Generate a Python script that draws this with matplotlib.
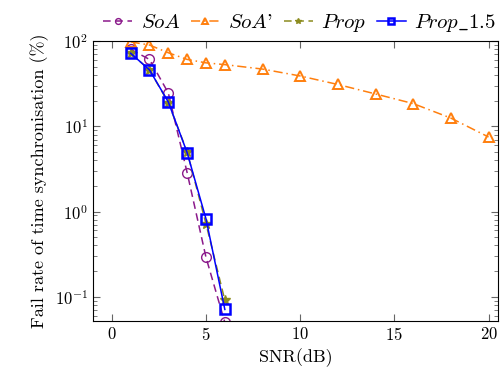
import matplotlib.pyplot as plt

plt.rcParams['font.family'] = 'cmr10'
plt.rcParams['mathtext.fontset'] = 'cm'
plt.rcParams['axes.formatter.use_mathtext'] = True

x_short = [1, 2, 3, 4, 5, 6]
soa = [80, 61, 24.6, 2.85, 0.29, 0.05]
prop = [72, 46, 19, 5.0, 0.72, 0.091]
prop15 = [72, 46, 19.3, 4.9, 0.82, 0.071]

x_long = [1, 2, 3, 4, 5, 6, 8, 10, 12, 14, 16, 18, 20]
soa_p = [98, 90, 73, 61, 55.6, 53, 47, 39, 31, 24, 18.5, 12.5, 7.5]

fig = plt.figure(figsize=(5.04, 3.88), dpi=100)
ax = fig.add_axes([0.1845, 0.1727, 0.8035, 0.7213])

ax.plot(x_short, soa, color='#8b1a8b', linestyle=(0, (5, 3)), marker='o',
        markerfacecolor='none', markersize=7, lw=1.1, label=r'$SoA$')
ax.plot(x_long, soa_p, color='#ff7f0e', linestyle=(0, (6, 2.5, 1, 2.5)), marker='^',
        markerfacecolor='none', markersize=7, mew=1.4, lw=1.1, label=r"$SoA$'")
ax.plot(x_short, prop, color='#8c8c1f', linestyle=(0, (5, 3)), marker='*',
        markersize=7, lw=1.1, label=r'$Prop$')
ax.plot(x_short, prop15, color='#0000ff', linestyle='-', marker='s',
        markerfacecolor='none', markersize=7, mew=1.8, lw=1.1, label=r'$Prop\_1.5$')

ax.set_yscale('log')
ax.set_xlim(-1, 20.5)
ax.set_ylim(0.052, 100)
ax.set_xticks([0, 5, 10, 15, 20])
ax.tick_params(which='both', direction='in', top=True, right=True, color='#666666',
               labelsize=12)
ax.tick_params(which='major', length=5)
ax.tick_params(which='minor', length=3)

ax.set_xlabel('SNR(dB)', fontsize=13)
ax.set_ylabel('Fail rate of time synchronisation (%)', fontsize=13)

ax.legend(loc='lower center', bbox_to_anchor=(0.51, 0.995), ncol=4, frameon=False,
          fontsize=15, handlelength=1.4, columnspacing=0.5, handletextpad=0.4,
          markerscale=0.6, borderaxespad=0)

fig.savefig('out.png', dpi=100)
